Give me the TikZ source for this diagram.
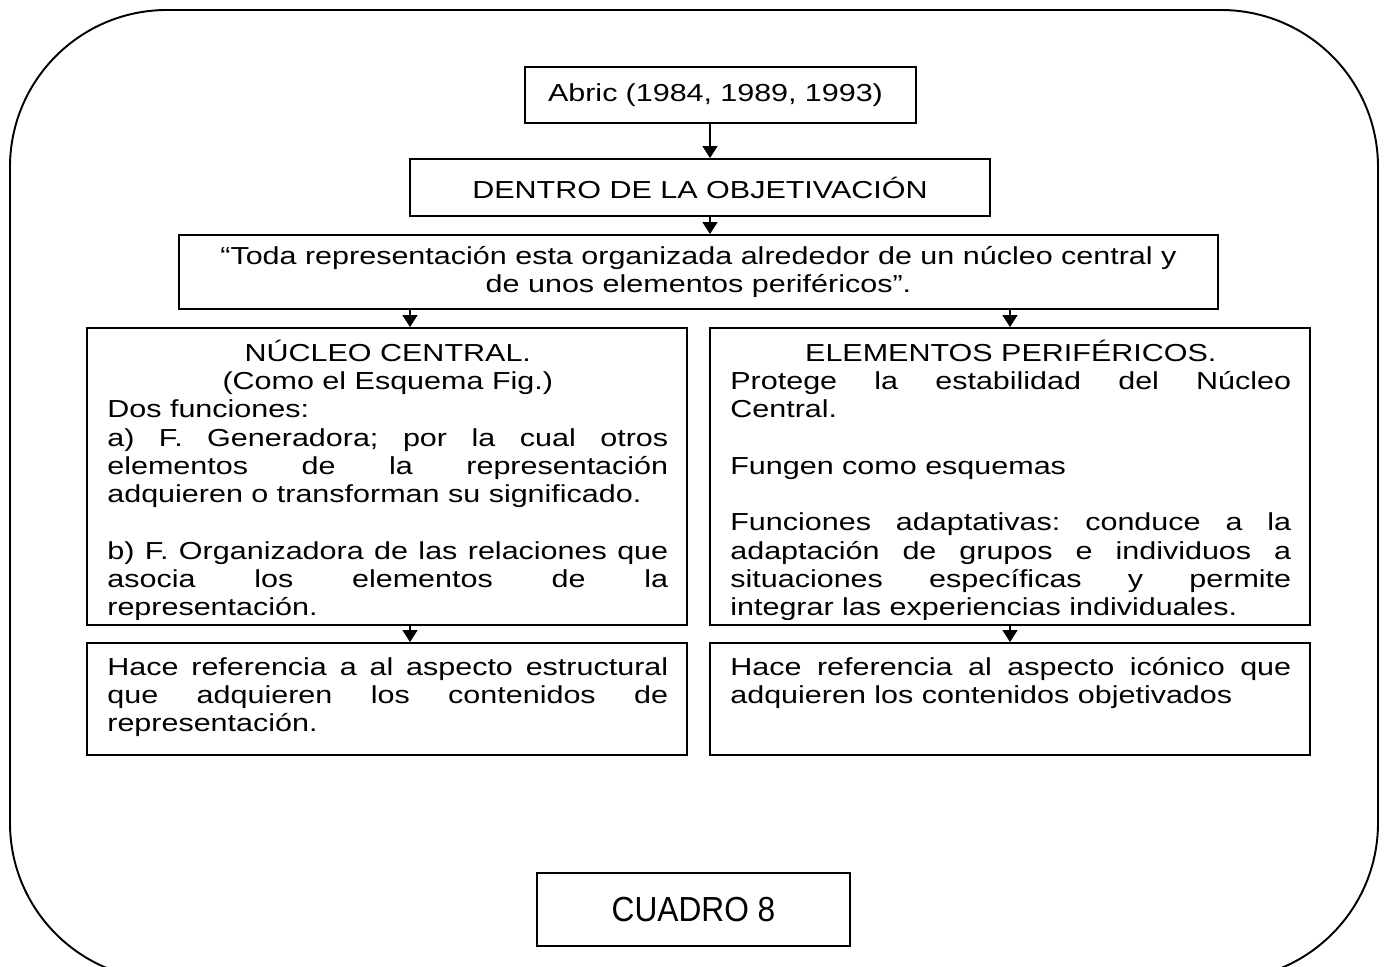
\documentclass[tikz,border=0pt]{standalone}
\usepackage{fontspec}
\setmainfont[FakeStretch=1.24]{Liberation Sans}
\newfontfamily\narrowsf[FakeStretch=0.91]{Liberation Sans}
\usetikzlibrary{arrows.meta,positioning,calc}
\tolerance=9999
\hbadness=10000

\begin{document}
\frenchspacing
\begin{tikzpicture}[
  x=0.02cm, y=-0.02cm,
  box/.style={draw=black, line width=1.1pt, inner sep=0pt, font=\fontsize{14}{16.1}\selectfont},
  txt/.style={anchor=north west, inner sep=0pt, text width=11.22cm, align=justify, font=\fontsize{14}{16.1}\selectfont},
  arr/.style={-{Triangle[length=0.24cm, width=0.3cm]}, line width=0.85pt},
  frm/.style={line width=1.1pt, rounded corners=3.14cm}
]
  \useasboundingbox (0,0) rectangle (1384,967);
  \draw[frm] (10,10) rectangle (1378,980);

  % columns of the arrows
  \coordinate (axis) at (710,0);
  \coordinate (colL) at (410,0);
  \coordinate (colR) at (1010,0);

  % top: chain of three boxes
  \node[box, minimum width=7.82cm, minimum height=1.12cm, inner xsep=0.46cm, text width=6.9cm, align=left] (abric) at (720.5,95) {Abric (1984, 1989, 1993)};
  \node[box, minimum width=11.6cm, minimum height=1.14cm] (dentro) at (700,187.5) {DENTRO DE LA OBJETIVACIÓN};
  \node[box, minimum width=20.78cm, minimum height=1.48cm, align=center] (quote) at (698.5,272)
    {“Toda representación esta organizada alrededor de un núcleo central y\\ de unos elementos periféricos”.};

  \draw[arr] (abric.south -| axis) -- (dentro.north -| axis);
  \draw[arr] (dentro.south -| axis) -- (quote.north -| axis);

  % middle: the two big boxes
  \node[box, minimum width=12cm, minimum height=5.94cm] (nc) at (387,476.5) {};
  \node[box, minimum width=12cm, minimum height=5.94cm] (ep) at (1010,476.5) {};

  \begin{scope}
    \clip (nc.north west) rectangle ($(nc.south east)+(0,-6)$);
    \node[txt] (ncText) at (107,339.5) {\vphantom{Ú}{\centering NÚCLEO CENTRAL.\par (Como el Esquema Fig.)\par}
      Dos funciones:\par
      a) F. Generadora; por la cual otros\linebreak elementos de la representación\linebreak adquieren o transforman su significado.\par\vskip\baselineskip
      b) F. Organizadora de las relaciones que\linebreak asocia los elementos de la\linebreak representación.};
  \end{scope}
  \begin{scope}
    \clip (ep.north west) rectangle ($(ep.south east)+(0,-6)$);
    \node[txt] (epText) at (730,339.5) {\vphantom{Ú}{\centering ELEMENTOS PERIFÉRICOS.\par}
      Protege la estabilidad del Núcleo\linebreak Central.\par\vskip\baselineskip
      Fungen como esquemas\par\vskip\baselineskip
      Funciones adaptativas: conduce a la\linebreak adaptación de grupos e individuos a\linebreak situaciones específicas y permite\linebreak integrar las experiencias individuales.};
  \end{scope}

  \draw[arr] (quote.south -| colL) -- (nc.north -| colL);
  \draw[arr] (quote.south -| colR) -- (ep.north -| colR);

  % bottom: what each side refers to
  \node[box, minimum width=12cm, minimum height=2.24cm] (ncLow) at (387,699) {};
  \node[box, minimum width=12cm, minimum height=2.24cm] (epLow) at (1010,699) {};
  \node[txt] (ncLowText) at (107,653.5) {\vphantom{Ú}Hace referencia a al aspecto estructural\linebreak que adquieren los contenidos de\linebreak representación.};
  \node[txt] (epLowText) at (730,653.5) {\vphantom{Ú}Hace referencia al aspecto icónico que\linebreak adquieren los contenidos objetivados};

  \draw[arr] (nc.south -| colL) -- (ncLow.north -| colL);
  \draw[arr] (ep.south -| colR) -- (epLow.north -| colR);

  % caption box
  \node[box, minimum width=6.26cm, minimum height=1.46cm, font=\narrowsf\fontsize{19.8}{24}\selectfont] (cuadro) at (693.5,909.5) {CUADRO 8};
\end{tikzpicture}
\end{document}
